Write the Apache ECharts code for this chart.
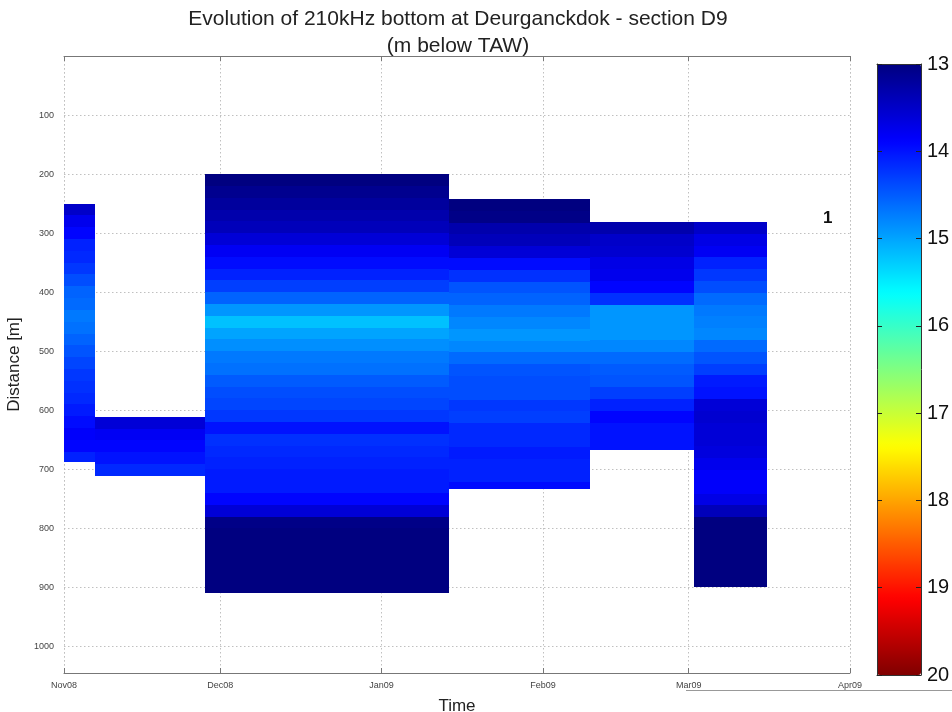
<!DOCTYPE html>
<html>
<head>
<meta charset="utf-8">
<script src="https://cdn.jsdelivr.net/npm/echarts@6/dist/echarts.min.js"></script>
<style>html,body{margin:0;padding:0;background:#fff;}#c{width:952px;height:712px;}</style>
</head>
<body>
<div id="c"></div>
<script>
// ---- data ----
const surveyStart = [[2008,11,1],[2008,11,7],[2008,11,28],[2009,1,14],[2009,2,10],[2009,3,2]];
const surveyEnd   = [[2008,11,7],[2008,11,28],[2009,1,14],[2009,2,10],[2009,3,2],[2009,3,16]];
const distStart = [250, 611, 200, 242, 281, 281];
const distEnd   = [688, 711, 910, 733, 667, 900];
const binSize = 20;
const depthNov01 = [13.5,13.75,13.9,14.1,14.15,14.25,14.4,14.55,14.6,14.7,14.65,14.55,14.45,14.35,14.25,14.2,14.15,14.05,13.95,13.85,13.9,14.1];
const depthNov07 = [13.6,13.8,13.9,14.0,14.15];
const depthNov28 = [13.0,13.1,13.2,13.3,13.4,13.6,13.8,13.95,14.1,14.3,14.55,14.9,15.2,15.0,14.85,14.7,14.65,14.5,14.4,14.35,14.25,14.0,14.2,14.15,14.1,14.05,14.05,13.9,13.6,13.05,13.0,13.0,13.0,13.0,13.0,13.0];
const depthJan14 = [13.0,13.05,13.3,13.4,13.6,13.95,14.2,14.45,14.55,14.7,14.8,14.9,14.8,14.6,14.45,14.4,14.4,14.25,14.3,14.15,14.15,14.05,14.1,14.1,13.95];
const depthFeb10 = [13.3,13.5,13.55,13.7,13.75,13.9,14.2,14.9,14.9,14.9,14.8,14.6,14.5,14.45,14.3,14.1,13.9,14.0,14.0,14.0];
const depthMar02 = [13.5,13.7,13.8,14.1,14.25,14.4,14.6,14.7,14.75,14.8,14.6,14.45,14.3,14.05,14.0,13.6,13.55,13.6,13.6,13.65,13.75,13.85,13.85,13.7,13.4,13.0,13.0,13.0,13.0,13.0,13.0];
const surveyDepths = [depthNov01, depthNov07, depthNov28, depthJan14, depthFeb10, depthMar02];
const colorTicks = [13,14,15,16,17,18,19,20];
const monthNames = ['Jan','Feb','Mar','Apr','May','Jun','Jul','Aug','Sep','Oct','Nov','Dec'];
const sectionLabel = '1';

// ---- build cells ----
function ts(a){ return new Date(a[0], a[1]-1, a[2]).getTime(); }
const cells = [];
surveyDepths.forEach((arr, i) => {
  arr.forEach((v, k) => {
    const d0 = distStart[i] + k*binSize;
    const d1 = Math.min(d0 + binSize, distEnd[i]);
    cells.push([ts(surveyStart[i]), ts(surveyEnd[i]), d0, d1, v]);
  });
});

const xMin = ts([2008,11,1]), xMax = ts([2009,4,1]);
const fmtMonth = v => { const d = new Date(v); return monthNames[d.getMonth()] + String(d.getFullYear()).slice(2); };
const FONT = 'Liberation Sans, Arial, sans-serif';
const gridLine = {show: true, lineStyle: {type: [1.5, 2.5], color: '#c0c0c0'}};

const chart = echarts.init(document.getElementById('c'), null, {renderer:'canvas'});
chart.setOption({
  animation: false,
  backgroundColor: '#fff',
  title: {
    text: 'Evolution of 210kHz bottom at Deurganckdok - section D9\n(m below TAW)',
    left: 453, top: 1, textAlign: 'center',
    textStyle: {fontFamily: FONT, fontSize: 21, fontWeight: 'normal', color: '#222', lineHeight: 27}
  },
  grid: [
    {left: 64, top: 56, width: 786, height: 617, outerBoundsMode: 'none'},
    {left: 877, top: 64, width: 44, height: 611, outerBoundsMode: 'none'}
  ],
  xAxis: [
    {
      type: 'time', gridIndex: 0, min: xMin, max: xMax, position: 'bottom',
      name: 'Time', nameLocation: 'middle', nameGap: 25,
      nameTextStyle: {fontFamily: FONT, fontSize: 17, color: '#222'},
      axisLine: {onZero: false, lineStyle: {color: '#777'}},
      axisTick: {inside: true, length: 5, lineStyle: {color: '#777'}},
      axisLabel: {formatter: fmtMonth, fontFamily: FONT, fontSize: 9, color: '#444', margin: 8, showMinLabel: true, showMaxLabel: true, hideOverlap: false},
      splitLine: gridLine,
      minorTick: {show: false}
    },
    {
      type: 'time', gridIndex: 0, min: xMin, max: xMax, position: 'top',
      axisLine: {onZero: false, lineStyle: {color: '#777'}},
      axisTick: {inside: true, length: 5, lineStyle: {color: '#777'}},
      axisLabel: {show: false}, splitLine: {show: false}
    },
    {type: 'value', gridIndex: 1, min: 0, max: 1, position: 'bottom', z: 10,
      axisLine: {onZero: false, lineStyle: {color: '#333'}}, axisTick: {show: false}, axisLabel: {show: false}, splitLine: {show: false}},
    {type: 'value', gridIndex: 1, min: 0, max: 1, position: 'top', z: 10,
      axisLine: {onZero: false, lineStyle: {color: '#333'}}, axisTick: {show: false}, axisLabel: {show: false}, splitLine: {show: false}}
  ],
  yAxis: [
    {
      type: 'value', gridIndex: 0, min: 0, max: 1045, interval: 100, inverse: true, position: 'left',
      name: 'Distance [m]', nameLocation: 'middle', nameGap: 34, nameRotate: 90,
      nameTextStyle: {fontFamily: FONT, fontSize: 17, color: '#222'},
      axisLine: {onZero: false, lineStyle: {color: '#777'}},
      axisTick: {inside: true, length: 5, lineStyle: {color: '#777'}},
      axisLabel: {fontFamily: FONT, fontSize: 9, color: '#444', margin: 10, showMinLabel: false,
        formatter: v => (v % 100 === 0 && v > 0) ? String(v) : ''},
      splitLine: gridLine
    },
    {
      type: 'value', gridIndex: 0, min: 0, max: 1045, interval: 100, inverse: true, position: 'right',
      axisLine: {onZero: false, lineStyle: {color: '#777'}},
      axisTick: {inside: true, length: 5, lineStyle: {color: '#777'}},
      axisLabel: {show: false}, splitLine: {show: false}
    },
    {
      type: 'value', gridIndex: 1, min: colorTicks[0], max: colorTicks[colorTicks.length-1], interval: 1, inverse: true, position: 'right', z: 10,
      axisLine: {onZero: false, lineStyle: {color: '#333'}},
      axisTick: {inside: true, length: 5, lineStyle: {color: '#222'}},
      axisLabel: {fontFamily: FONT, fontSize: 20, color: '#111', margin: 6},
      splitLine: {show: false}
    },
    {
      type: 'value', gridIndex: 1, min: colorTicks[0], max: colorTicks[colorTicks.length-1], interval: 1, inverse: true, position: 'left', z: 10,
      axisLine: {onZero: false, lineStyle: {color: '#333'}},
      axisTick: {inside: true, length: 5, lineStyle: {color: '#222'}},
      axisLabel: {show: false}, splitLine: {show: false}
    }
  ],
  visualMap: {
    type: 'continuous', min: colorTicks[0], max: colorTicks[colorTicks.length-1],
    dimension: 4, seriesIndex: 0, orient: 'vertical', inverse: true, z: 1,
    left: 877, top: 64, itemWidth: 44, itemHeight: 611, padding: 0,
    calculable: false, realtime: false, text: null, showLabel: false, hoverLink: false,
    inRange: {color: ['#000080','#0000ff','#0080ff','#00ffff','#80ff80','#ffff00','#ff8000','#ff0000','#800000']}
  },
  series: [{
    type: 'custom', xAxisIndex: 0, yAxisIndex: 0,
    encode: {x: [0,1], y: [2,3]},
    data: cells,
    renderItem: (params, api) => {
      const p0 = api.coord([api.value(0), api.value(2)]);
      const p1 = api.coord([api.value(1), api.value(3)]);
      const x0 = Math.round(p0[0]), x1 = Math.round(p1[0]);
      const y0 = Math.round(Math.min(p0[1], p1[1])), y1 = Math.round(Math.max(p0[1], p1[1]));
      return {type: 'rect',
        shape: {x: x0, y: y0, width: x1 - x0, height: y1 - y0},
        style: {fill: api.visual('color')}};
    }
  }],
  graphic: [
    {type: 'text', left: 823, top: 210, style: {text: sectionLabel, font: 'bold 17px Liberation Sans, Arial, sans-serif', fill: '#111'}},
    {type: 'line', shape: {x1: 686, y1: 690.5, x2: 952, y2: 690.5}, style: {stroke: '#999', lineWidth: 1}}
  ]
});
</script>
</body>
</html>
